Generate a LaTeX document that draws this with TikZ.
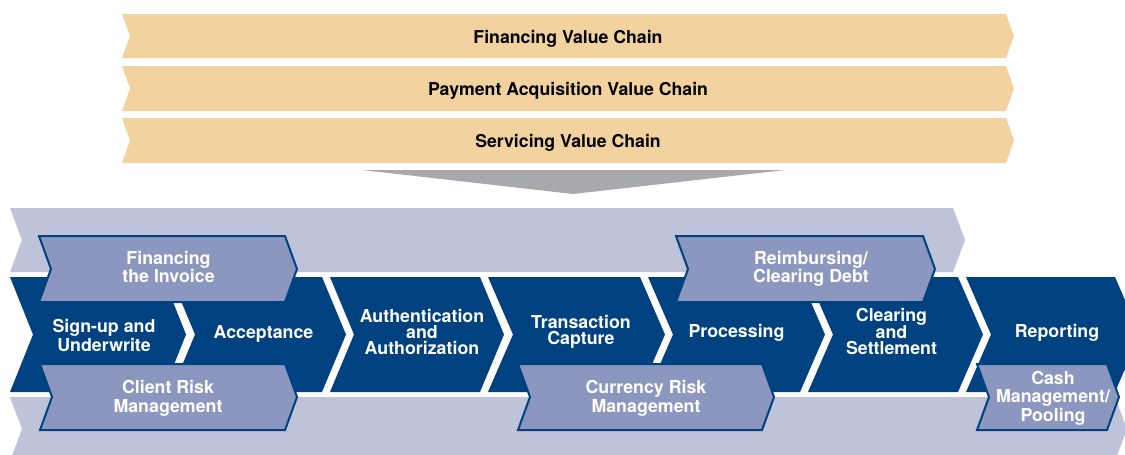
\documentclass[tikz,border=0pt]{standalone}
\usepackage{fontspec}
\setmainfont{TeX Gyre Heros}
\definecolor{tan}{HTML}{F2D39F}
\definecolor{funnel}{HTML}{A7A9AC}
\definecolor{lavlight}{HTML}{BEC3DA}
\definecolor{darkblue}{HTML}{00417F}
\definecolor{lavmid}{HTML}{8C97BF}
% chevron path: x-left, x-right, y-top, y-bottom, depth
\newcommand{\chv}[5]{(#1,#3) -- (#2,#3) -- ({#2+#5},{(#3+#4)/2}) -- (#2,#4) -- (#1,#4) -- ({#1+#5},{(#3+#4)/2}) -- cycle}
\tikzset{
  tanband/.style={fill=tan},
  lavband/.style={fill=lavlight},
  darkchev/.style={fill=darkblue},
  overchev/.style={fill=lavmid, draw=darkblue, line width=2pt, line join=miter},
  toplabel/.style={font=\bfseries\fontsize{17.7}{18}\selectfont, text=black, inner sep=0pt},
  darklabel/.style={font=\bfseries\fontsize{17.8}{16}\selectfont, text=white, align=center, inner sep=0pt},
  overlabel/.style={font=\bfseries\fontsize{17.8}{18.5}\selectfont, text=white, align=center, inner sep=0pt}
}
\begin{document}
\begin{tikzpicture}[x=1pt,y=-1pt]
\clip (0,0) rectangle (1125,455);
\fill[white] (0,0) rectangle (1125,455);
% top value chains
\fill[tanband] \chv{122}{1006}{14}{58}{8};
\fill[tanband] \chv{122}{1006}{66}{111}{8};
\fill[tanband] \chv{122}{1006}{118}{163}{8};
\node[toplabel, anchor=base] (vc1) at (568,43) {Financing Value Chain};
\node[toplabel, anchor=base] (vc2) at (568,95) {Payment Acquisition Value Chain};
\node[toplabel, anchor=base] (vc3) at (568,147) {Servicing Value Chain};
% funnel
\fill[funnel] (362,170) -- (785,170) -- (573,194) -- cycle;
% light bands
\fill[lavband] \chv{10}{953}{208}{272}{12};
\fill[lavband] \chv{10}{1115}{397}{461}{12};
% dark chevrons
\fill[darkchev] \chv{10}{163}{277}{392}{23};
\fill[darkchev] \chv{171}{322}{277}{392}{24};
\fill[darkchev] \chv{330}{480}{277}{392}{24};
\fill[darkchev] \chv{488}{640}{277}{392}{25};
\fill[darkchev] \chv{648}{800}{277}{392}{25};
\fill[darkchev] \chv{808}{958}{277}{392}{25};
\fill[darkchev] \chv{966}{1115}{277}{392}{25};
% overlay chevrons
\draw[overchev] \chv{39}{285}{236}{302}{12};
\draw[overchev] \chv{40}{285}{364}{430}{12};
\draw[overchev] \chv{676}{923}{236}{302}{12};
\draw[overchev] \chv{518}{762}{364}{430}{12};
\draw[overchev] \chv{977}{1107}{364}{430}{12};
% labels
\node[darklabel] (signup) at (104,335.5) {Sign-up and\\Underwrite};
\node[darklabel] (accept) at (263.5,333.5) {Acceptance};
\node[darklabel] (auth) at (422,331.5) {Authentication\\and\\Authorization};
\node[darklabel] (capture) at (581,332) {Transaction\\Capture};
\node[darklabel] (proc) at (736.5,333) {Processing};
\node[darklabel] (clear) at (891.5,331.5) {Clearing\\and\\Settlement};
\node[darklabel] (report) at (1057,333) {Reporting};
\node[overlabel] (finv) at (168.5,267) {Financing\\the Invoice};
\node[overlabel] (crm) at (168,398.5) {Client Risk\\Management};
\node[overlabel] (reimb) at (811,269) {Reimbursing/\\Clearing Debt};
\node[overlabel] (currm) at (646,398.5) {Currency Risk\\Management};
\node[overlabel] (cash) at (1053,398) {Cash\\Management/\\Pooling};
\end{tikzpicture}
\end{document}
